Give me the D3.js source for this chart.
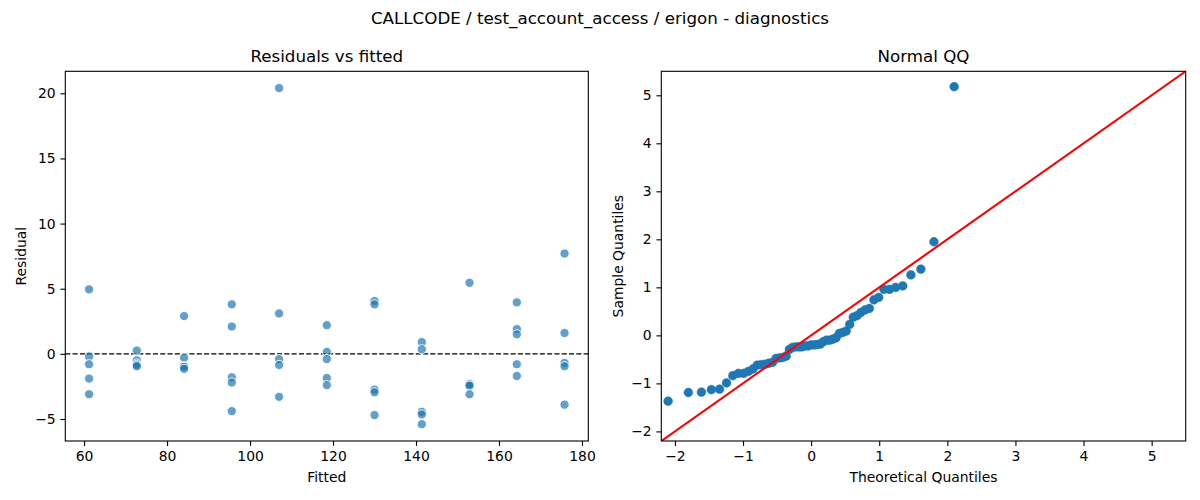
<!DOCTYPE html>
<html>
<head>
<meta charset="utf-8">
<script src="https://cdn.jsdelivr.net/npm/d3@7"></script>
<style>
  body { margin: 0; background: #fff; }
  text { font-family: "DejaVu Sans", sans-serif; fill: #000; }
  .axis path, .axis line { stroke: #000; stroke-width: 1.1; }
  .axis text { font-size: 13.9px; }
  .label-text { font-size: 13.9px; }
  .title-text { font-size: 16.7px; }
</style>
</head>
<body>
<script>
// fitted values (one per group) and residuals read per group
var fittedLevels = [61.2, 72.7, 84.1, 95.6, 107.0, 118.5, 130.0, 141.4, 152.9, 164.3, 175.8];
var residualsByGroup = [
    [4.95, -0.2, -0.8, -1.9, -3.1],
    [0.25, -0.5, -0.75, -0.85, -0.95],
    [2.9, -0.3, -0.95, -1.0, -1.15],
    [3.8, 2.1, -1.8, -2.2, -4.4],
    [20.4, 3.1, -0.4, -0.85, -3.3],
    [2.2, 0.15, -0.4, -1.85, -2.4],
    [4.05, 3.8, -2.75, -2.95, -4.7],
    [0.9, 0.35, -4.45, -4.65, -5.4],
    [5.45, -2.3, -2.35, -2.45, -3.1],
    [3.95, 1.9, 1.5, -0.8, -1.7],
    [7.7, 1.6, -0.7, -0.95, -3.9]
];

// normal QQ points
var theoreticalQ = [-2.100, -1.803, -1.611, -1.465, -1.345, -1.242, -1.150, -1.068, -0.992, -0.921,
    -0.854, -0.792, -0.732, -0.674, -0.619, -0.566, -0.514, -0.464, -0.415, -0.366,
    -0.319, -0.272, -0.226, -0.180, -0.135, -0.090, -0.045, 0.000, 0.045, 0.090,
    0.135, 0.180, 0.226, 0.272, 0.319, 0.366, 0.415, 0.464, 0.514, 0.566,
    0.619, 0.674, 0.732, 0.792, 0.854, 0.921, 0.992, 1.068, 1.150, 1.242,
    1.345, 1.465, 1.611, 1.803, 2.100];
var sampleQ = [-1.37, -1.19, -1.18, -1.13, -1.12, -0.99, -0.84, -0.79, -0.79, -0.75,
    -0.70, -0.62, -0.61, -0.60, -0.58, -0.56, -0.48, -0.47, -0.46, -0.43,
    -0.29, -0.25, -0.24, -0.24, -0.24, -0.22, -0.22, -0.20, -0.20, -0.19,
    -0.18, -0.13, -0.10, -0.10, -0.08, -0.05, 0.04, 0.06, 0.09, 0.23,
    0.38, 0.41, 0.48, 0.53, 0.56, 0.74, 0.79, 0.96, 0.96, 1.00,
    1.03, 1.26, 1.38, 1.95, 5.18];

var residXTicks = [60, 80, 100, 120, 140, 160, 180];
var residYTicks = [-5, 0, 5, 10, 15, 20];
var qqTicks = [-2, -1, 0, 1, 2, 3, 4, 5];

var W = 1200, H = 500;
var plotTop = 71.3, plotBottom = 441;
var leftPanel = {x0: 65.3, x1: 588.3};
var rightPanel = {x0: 661.3, x1: 1185.7};
var blue = "#1f77b4";

var svg = d3.select("body").append("svg")
    .attr("width", W)
    .attr("height", H);

svg.append("text")
    .attr("class", "title-text")
    .attr("x", W / 2)
    .attr("y", 24)
    .attr("text-anchor", "middle")
    .text("CALLCODE / test_account_access / erigon - diagnostics");

//==================== Residuals vs fitted ====================
var points = [];
fittedLevels.forEach(function(f, i) {
    residualsByGroup[i].forEach(function(r) {
        points.push({fitted: f, resid: r});
    });
});

var x1 = d3.scaleLinear()
    .domain([55.47, 181.53])
    .range([leftPanel.x0, leftPanel.x1]);
var y1 = d3.scaleLinear()
    .domain([-6.69, 21.69])
    .range([plotBottom, plotTop]);

var g1 = svg.append("g");

g1.append("clipPath").attr("id", "clip1")
    .append("rect")
    .attr("x", leftPanel.x0).attr("y", plotTop)
    .attr("width", leftPanel.x1 - leftPanel.x0)
    .attr("height", plotBottom - plotTop);

g1.append("line")
    .attr("x1", leftPanel.x0).attr("x2", leftPanel.x1)
    .attr("y1", y1(0)).attr("y2", y1(0))
    .attr("stroke", "#000")
    .attr("stroke-width", 1.39)
    .attr("stroke-dasharray", "5.1,2.2");

g1.append("g")
    .attr("clip-path", "url(#clip1)")
    .selectAll(".dot")
    .data(points)
    .enter()
    .append("circle")
    .attr("class", "dot")
    .attr("cx", d => x1(d.fitted))
    .attr("cy", d => y1(d.resid))
    .attr("r", 4.6)
    .attr("fill", blue)
    .attr("fill-opacity", 0.7)
    .attr("stroke", "#fff")
    .attr("stroke-width", 0.9);

g1.append("g")
    .attr("class", "axis")
    .attr("transform", "translate(0," + plotBottom + ")")
    .call(d3.axisBottom(x1).tickValues(residXTicks).tickSize(4.9).tickPadding(4.8).tickSizeOuter(0));
g1.append("g")
    .attr("class", "axis")
    .attr("transform", "translate(" + leftPanel.x0 + ",0)")
    .call(d3.axisLeft(y1).tickValues(residYTicks).tickSize(4.9).tickPadding(4.8).tickSizeOuter(0));

g1.append("rect")
    .attr("x", leftPanel.x0).attr("y", plotTop)
    .attr("width", leftPanel.x1 - leftPanel.x0)
    .attr("height", plotBottom - plotTop)
    .attr("fill", "none")
    .attr("stroke", "#000")
    .attr("stroke-width", 1.1);

g1.append("text")
    .attr("class", "title-text")
    .attr("x", (leftPanel.x0 + leftPanel.x1) / 2)
    .attr("y", 62)
    .attr("text-anchor", "middle")
    .text("Residuals vs fitted");
g1.append("text")
    .attr("class", "label-text")
    .attr("x", (leftPanel.x0 + leftPanel.x1) / 2)
    .attr("y", 482)
    .attr("text-anchor", "middle")
    .text("Fitted");
g1.append("text")
    .attr("class", "label-text")
    .attr("transform", "translate(26," + ((plotTop + plotBottom) / 2) + ") rotate(-90)")
    .attr("text-anchor", "middle")
    .text("Residual");

//==================== Normal QQ ====================
var qq = theoreticalQ.map(function(t, i) { return {t: t, s: sampleQ[i]}; });
var lims = [-2.2, 5.5];

var x2 = d3.scaleLinear()
    .domain(lims)
    .range([rightPanel.x0, rightPanel.x1]);
var y2 = d3.scaleLinear()
    .domain(lims)
    .range([plotBottom, plotTop]);

var g2 = svg.append("g");

g2.append("clipPath").attr("id", "clip2")
    .append("rect")
    .attr("x", rightPanel.x0).attr("y", plotTop)
    .attr("width", rightPanel.x1 - rightPanel.x0)
    .attr("height", plotBottom - plotTop);

g2.append("g")
    .attr("clip-path", "url(#clip2)")
    .selectAll(".qdot")
    .data(qq)
    .enter()
    .append("circle")
    .attr("class", "qdot")
    .attr("cx", d => x2(d.t))
    .attr("cy", d => y2(d.s))
    .attr("r", 4.4)
    .attr("fill", blue)
    .attr("stroke", blue)
    .attr("stroke-width", 0.5);

g2.append("line")
    .attr("clip-path", "url(#clip2)")
    .attr("x1", x2(lims[0])).attr("y1", y2(lims[0]))
    .attr("x2", x2(lims[1])).attr("y2", y2(lims[1]))
    .attr("stroke", "red")
    .attr("stroke-width", 2.08);

g2.append("g")
    .attr("class", "axis")
    .attr("transform", "translate(0," + plotBottom + ")")
    .call(d3.axisBottom(x2).tickValues(qqTicks).tickSize(4.9).tickPadding(4.8).tickSizeOuter(0));
g2.append("g")
    .attr("class", "axis")
    .attr("transform", "translate(" + rightPanel.x0 + ",0)")
    .call(d3.axisLeft(y2).tickValues(qqTicks).tickSize(4.9).tickPadding(4.8).tickSizeOuter(0));

g2.append("rect")
    .attr("x", rightPanel.x0).attr("y", plotTop)
    .attr("width", rightPanel.x1 - rightPanel.x0)
    .attr("height", plotBottom - plotTop)
    .attr("fill", "none")
    .attr("stroke", "#000")
    .attr("stroke-width", 1.1);

g2.append("text")
    .attr("class", "title-text")
    .attr("x", (rightPanel.x0 + rightPanel.x1) / 2)
    .attr("y", 62)
    .attr("text-anchor", "middle")
    .text("Normal QQ");
g2.append("text")
    .attr("class", "label-text")
    .attr("x", (rightPanel.x0 + rightPanel.x1) / 2)
    .attr("y", 482)
    .attr("text-anchor", "middle")
    .text("Theoretical Quantiles");
g2.append("text")
    .attr("class", "label-text")
    .attr("transform", "translate(623," + ((plotTop + plotBottom) / 2) + ") rotate(-90)")
    .attr("text-anchor", "middle")
    .text("Sample Quantiles");

svg.selectAll(".axis .domain").remove();
</script>
</body>
</html>
